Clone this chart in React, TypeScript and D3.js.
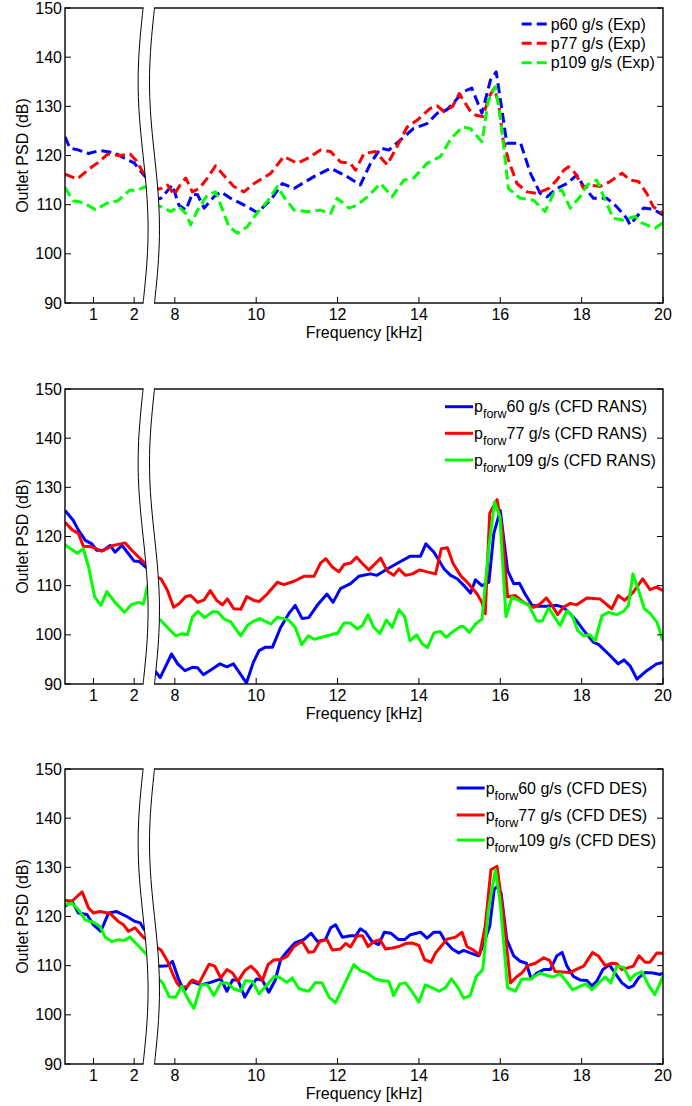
import React, { useEffect, useRef } from 'react';
import * as d3 from 'd3';

type Pt = [number, number];

// frequency [kHz], PSD [dB]  (f < 5 belongs to the low segment left of the axis break)
const exp60: Pt[] = [[0.3,123.8],[0.42,121.5],[0.6,121.2],[0.88,120.4],[1.15,121],[1.5,120.6],[1.8,119.3],[2.0,118.5],[2.2,116.4],[2.4,114.5],
  [7.45,111],[7.66,111.3],[7.94,114],[8.1,109.9],[8.27,108.9],[8.43,112.2],[8.56,112],[8.72,109.3],[8.96,111.6],[9.13,112.6],[9.37,111.3],[9.66,110.1],[10.03,108.4],[10.36,111],[10.64,114.3],[10.93,113.3],[11.42,115.7],[11.83,117.4],[12.24,115.7],[12.56,114],[12.81,118.4],[13.06,121.5],[13.26,121.1],[13.55,123.2],[13.87,125.5],[14.2,126.5],[14.45,128.6],[14.69,129.3],[15.1,133],[15.3,133.7],[15.55,128.6],[15.76,135.4],[15.9,137],[16.04,129.3],[16.16,122.5],[16.5,122.5],[16.74,116.4],[16.98,112.3],[17.15,111.6],[17.39,113.3],[17.64,114.3],[17.88,116],[18.05,113.7],[18.29,111.3],[18.62,111.3],[18.86,109.6],[19.11,107.2],[19.19,105.9],[19.36,107.6],[19.52,109.3],[19.76,109.1],[20,107.9]];
const exp77: Pt[] = [[0.3,116.2],[0.6,115.2],[0.9,117.3],[1.15,118.8],[1.35,120.3],[1.65,120],[1.9,120.3],[2.05,119],[2.2,116.8],[2.4,114.5],
  [7.45,113],[7.66,113.3],[7.82,114],[7.98,112],[8.15,114.3],[8.27,115.4],[8.43,112.6],[8.6,113.3],[8.8,115.4],[9.0,117.9],[9.2,116],[9.45,113.7],[9.7,112.6],[9.95,114.3],[10.36,116.4],[10.68,119.8],[11.01,118.4],[11.26,119.4],[11.58,121.1],[11.83,120.8],[12.07,118.7],[12.32,118.4],[12.44,117],[12.65,120.4],[12.93,120.8],[13.22,118.1],[13.46,121.8],[13.71,125.8],[13.96,127.2],[14.28,129.6],[14.45,130.1],[14.62,128.9],[14.83,130],[14.99,132.6],[15.24,129.3],[15.4,128.2],[15.57,127.9],[15.73,132],[15.85,133.7],[15.96,130.6],[16.07,123.2],[16.2,119.1],[16.41,114.3],[16.66,112.6],[16.9,112.3],[17.19,113.3],[17.39,115],[17.56,117],[17.68,117.7],[17.84,116.4],[18.05,113.3],[18.21,114],[18.45,113.7],[18.7,114.7],[18.99,116.4],[19.19,115],[19.4,114.7],[19.6,112.3],[19.76,109.6],[20,108.2]];
const exp109: Pt[] = [[0.3,113.5],[0.5,110.8],[0.75,110.4],[1.05,109],[1.33,110.3],[1.6,110.8],[1.9,113],[2.05,112.8],[2.25,113.6],[2.4,113.5],
  [7.45,110],[7.66,109.6],[7.9,108.6],[8.1,109.6],[8.27,108.2],[8.39,105.9],[8.56,108.9],[8.8,112],[9.0,112.6],[9.13,109.9],[9.33,105.5],[9.54,104.2],[9.78,105.5],[10.03,108.4],[10.27,110.6],[10.52,113.7],[10.68,111.6],[10.93,108.9],[11.26,108.6],[11.58,108.9],[11.83,108.2],[11.99,111.3],[12.28,109.3],[12.48,109.9],[12.73,111.6],[13.06,114.3],[13.34,111.6],[13.63,115],[13.87,115.4],[14.2,118.4],[14.53,119.8],[14.77,123.2],[15.06,125.8],[15.26,125.5],[15.55,122.8],[15.71,131.3],[15.88,134],[16.0,127.9],[16.12,119.1],[16.2,113.3],[16.49,111.3],[16.82,110.9],[17.1,108.6],[17.31,112.3],[17.51,113],[17.72,109.3],[17.96,111.6],[18.13,114],[18.37,115],[18.58,110.9],[18.78,107.2],[19.03,106.9],[19.31,107.6],[19.48,106.3],[19.8,105.2],[20,106.3]];

const rans60: Pt[] = [[0.3,125.3],[0.5,123.3],[0.63,121.3],[0.8,119.2],[0.96,118.5],[1.08,117.2],[1.25,117.2],[1.41,118.2],[1.53,116.8],[1.7,118.2],[1.86,116.5],[2.0,115],[2.13,114.9],[2.27,113.9],[2.4,113],
  [7.5,92.8],[7.64,91.3],[7.92,96.1],[8.07,94.1],[8.25,92.7],[8.43,93.4],[8.56,93.3],[8.7,91.9],[8.93,93.1],[9.11,94.1],[9.28,93.5],[9.44,94.1],[9.58,92.4],[9.76,90.2],[9.93,94.4],[10.07,96.8],[10.23,97.5],[10.4,97.5],[10.6,101.5],[10.8,104.3],[10.96,106],[11.13,103.3],[11.29,103.5],[11.5,106],[11.74,108.3],[11.89,106.6],[12.07,109.4],[12.32,110.4],[12.52,111.9],[12.81,112.4],[12.97,112.1],[13.22,113.4],[13.46,114.5],[13.79,116],[14.04,116],[14.17,118.5],[14.37,116.8],[14.62,113.4],[14.78,112.1],[14.94,111.4],[15.11,110],[15.27,108.5],[15.39,111.2],[15.55,110],[15.72,110.7],[15.84,120.6],[16.0,125.3],[16.18,113.1],[16.33,110.4],[16.47,110.5],[16.61,108.3],[16.78,106],[16.94,105.8],[17.15,105.8],[17.39,106],[17.55,105.6],[17.72,104.3],[17.88,102.8],[18.05,100.9],[18.29,98.5],[18.42,98],[18.66,96.1],[18.9,94.1],[19.04,94.9],[19.19,93.7],[19.36,91],[19.6,92.7],[19.85,94.1],[20,94.4]];
const rans77: Pt[] = [[0.3,122.9],[0.47,121.4],[0.63,120.6],[0.75,118],[0.96,117.9],[1.2,117],[1.49,118.2],[1.78,118.7],[1.94,117.2],[2.15,115.5],[2.27,114.5],[2.4,113.6],
  [7.5,112],[7.66,111.4],[7.82,109],[7.97,105.6],[8.1,106.3],[8.27,107.8],[8.39,108],[8.56,106.6],[8.72,107.1],[8.87,109],[9.03,107],[9.17,106.1],[9.29,107.3],[9.45,105.3],[9.62,105.2],[9.77,107.8],[9.94,107],[10.08,106.8],[10.27,108.3],[10.52,110.7],[10.68,110.2],[10.93,110.9],[11.17,111.9],[11.42,111.9],[11.58,114.6],[11.71,115.5],[11.87,113.8],[12.03,112.8],[12.16,114.3],[12.32,114.6],[12.47,115.8],[12.61,114.5],[12.77,113.2],[12.93,114.5],[13.06,115.6],[13.22,113],[13.38,112.1],[13.51,113.4],[13.67,112.1],[13.84,112.4],[14.02,113.2],[14.2,112.8],[14.41,112.4],[14.55,117.5],[14.7,117.7],[14.84,114.5],[15.02,112.1],[15.22,110.4],[15.43,108.3],[15.55,106.6],[15.63,104.3],[15.74,124.7],[15.92,127.5],[16.04,121.9],[16.18,107.7],[16.37,108],[16.57,106.6],[16.82,105.6],[16.98,106.3],[17.13,107.5],[17.27,106],[17.41,104.1],[17.55,105.6],[17.72,106.4],[17.88,106.1],[18.13,107.5],[18.45,107.3],[18.74,105.3],[18.9,108],[19.06,107],[19.27,108.7],[19.5,111.4],[19.68,109.2],[19.84,109.7],[20,109]];
const rans109: Pt[] = [[0.3,118.3],[0.6,116.6],[0.75,117.5],[0.88,113.8],[1.03,107.7],[1.18,106],[1.33,108.8],[1.53,106.6],[1.76,104.6],[1.94,106.2],[2.11,106.6],[2.23,106.3],[2.31,109.4],[2.4,111],
  [7.5,104],[7.66,102.9],[7.82,101.5],[8.02,99.8],[8.16,100.2],[8.31,100],[8.43,103.6],[8.57,104.8],[8.73,103.5],[8.93,104.7],[9.05,104.7],[9.21,103.2],[9.37,102.7],[9.62,99.8],[9.78,101.9],[9.94,102.8],[10.09,103.3],[10.36,102.2],[10.52,103.6],[10.8,103],[10.96,101.5],[11.12,98],[11.28,99.8],[11.42,99.1],[11.66,99.6],[11.91,100.2],[11.99,100.2],[12.16,102.4],[12.32,102.4],[12.48,101.2],[12.61,101.9],[12.75,104.1],[12.89,101.5],[13.04,100.3],[13.2,103],[13.34,101.5],[13.51,105.1],[13.65,103.7],[13.78,98.8],[13.94,100],[14.08,98.2],[14.21,97.4],[14.37,100.4],[14.53,100.7],[14.67,99.5],[14.84,100.7],[15.02,101.7],[15.1,101.7],[15.24,100.5],[15.39,102.2],[15.55,103.2],[15.72,117.8],[15.86,127],[15.99,124],[16.14,103.7],[16.29,107.7],[16.5,106.8],[16.7,106],[16.9,102.8],[17.03,102.8],[17.19,105.5],[17.31,103.9],[17.47,101.9],[17.64,104.9],[17.78,103.7],[17.9,100.9],[18.05,99.8],[18.21,100],[18.33,98.8],[18.5,103.9],[18.66,104.6],[18.86,104.1],[19.03,104.8],[19.15,106],[19.26,112.4],[19.4,109],[19.54,105.3],[19.68,104.4],[19.85,102.6],[20,98.8]];

const des60: Pt[] = [[0.3,122.1],[0.47,123.1],[0.63,120.7],[0.84,120.4],[1.0,118.3],[1.18,117],[1.37,120.7],[1.57,121],[1.82,120],[2.02,119],[2.15,118.7],[2.25,117.3],[2.4,116.5],
  [7.5,110],[7.64,109.9],[7.82,110],[7.94,110.9],[8.1,107.1],[8.23,104.8],[8.39,106.8],[8.64,106.1],[8.88,106.6],[9.13,107.3],[9.28,104.8],[9.42,107.1],[9.55,107.1],[9.72,103.6],[9.87,105.8],[10.01,107.3],[10.15,107.1],[10.31,104.6],[10.47,107.1],[10.6,111.2],[10.76,112.9],[10.96,114.7],[11.17,115.3],[11.35,116.6],[11.51,114.9],[11.7,115.3],[11.83,117.7],[11.95,118.3],[12.12,115.8],[12.32,116.1],[12.45,116.1],[12.56,117.5],[12.69,116.8],[12.85,114.9],[13.01,114.3],[13.15,116.8],[13.31,116.6],[13.5,115.3],[13.65,115.3],[13.79,116.3],[14.04,116.8],[14.2,115.6],[14.37,116.8],[14.52,116.8],[14.65,114.9],[14.82,113.4],[14.98,112.6],[15.1,113.1],[15.26,112.6],[15.47,112],[15.61,114.9],[15.74,118],[15.85,125.5],[15.92,126.1],[16.02,124.8],[16.16,115.3],[16.33,112],[16.49,110.9],[16.64,110.5],[16.76,107.3],[16.9,108.5],[17.07,109.2],[17.23,109.2],[17.39,112],[17.52,112.7],[17.64,109.9],[17.8,107.8],[17.96,107.1],[18.13,107],[18.25,105.9],[18.37,106.8],[18.52,109.2],[18.68,110.2],[18.82,108.5],[18.99,106.5],[19.15,105.5],[19.27,105.9],[19.4,107.5],[19.56,108.6],[19.76,108.5],[19.93,108.2],[20,108.5]];
const des77: Pt[] = [[0.3,123.3],[0.47,123.1],[0.72,125],[0.88,121.7],[1.0,120.7],[1.16,121],[1.41,120.6],[1.61,119],[1.74,118.3],[1.86,117],[2.02,117.7],[2.19,116.1],[2.25,115.6],[2.4,115],
  [7.5,114],[7.66,113.2],[7.82,110.9],[7.94,108.5],[8.05,106.5],[8.15,105.5],[8.31,105.8],[8.43,107.1],[8.6,106.5],[8.84,110.3],[8.98,109.9],[9.13,107.5],[9.28,109.2],[9.42,108.5],[9.55,106.8],[9.72,109],[9.87,109.9],[10.01,108.8],[10.15,107],[10.29,110.2],[10.44,111.2],[10.6,111.2],[10.76,111.9],[10.93,113.9],[11.13,114.9],[11.29,112.7],[11.42,112.9],[11.56,114.9],[11.74,115.3],[11.87,113.2],[12.07,113.4],[12.2,114.5],[12.32,113.8],[12.48,116.1],[12.61,116.1],[12.75,113.9],[12.89,114.9],[13.04,115.3],[13.18,113.4],[13.34,113.6],[13.51,113.9],[13.67,114.5],[13.84,114.6],[14.0,114.1],[14.14,111.2],[14.3,110.7],[14.41,112.6],[14.53,113.8],[14.69,115.4],[14.9,115.8],[15.06,116.8],[15.18,113.9],[15.35,113.1],[15.49,112.2],[15.63,118],[15.77,129.5],[15.92,130.2],[16.07,120.7],[16.25,106.5],[16.41,107.8],[16.53,108.5],[16.67,110],[16.86,110.5],[17.07,111.6],[17.21,111.1],[17.35,108.8],[17.52,108.7],[17.72,108.6],[17.88,109.3],[18.05,109.9],[18.27,112.7],[18.42,111.9],[18.58,110],[18.74,110.5],[18.86,110.4],[18.99,109.2],[19.15,109.6],[19.27,109.9],[19.41,112],[19.56,110.7],[19.68,110.7],[19.85,112.6],[20,112.5]];
const des109: Pt[] = [[0.3,122.4],[0.47,122.7],[0.63,121.4],[0.8,119.3],[1.0,118.8],[1.16,118],[1.29,115.8],[1.45,114.9],[1.61,115.3],[1.74,115.1],[1.9,115.8],[2.07,114.3],[2.27,112.6],[2.4,111.5],
  [7.5,108],[7.58,107.5],[7.7,106.5],[7.86,103.7],[8.02,103.6],[8.17,105.8],[8.31,103.4],[8.47,101.3],[8.64,106.1],[8.8,106.1],[8.96,103.9],[9.13,106.5],[9.29,106.5],[9.45,105.3],[9.62,104.8],[9.74,107],[9.91,106.8],[10.07,104.3],[10.27,106.1],[10.44,107.8],[10.56,107.7],[10.75,106.6],[10.89,107.5],[11.05,105.3],[11.29,104.8],[11.46,106.6],[11.62,106.5],[11.79,103.6],[11.95,102.5],[12.16,106.1],[12.4,110.2],[12.56,109],[12.73,108.5],[12.93,107.3],[13.1,107],[13.26,106.8],[13.38,103.9],[13.53,106.3],[13.67,106.5],[13.84,104.6],[14.0,102.6],[14.16,106.1],[14.33,105.5],[14.49,104.8],[14.65,105.5],[14.8,107.3],[14.94,105.8],[15.1,103.4],[15.26,103.9],[15.41,107.8],[15.57,109.2],[15.71,121.4],[15.88,129.5],[16.0,122.7],[16.18,105.5],[16.37,104.8],[16.53,107.3],[16.74,107.3],[16.98,108.5],[17.15,108],[17.31,107.7],[17.47,108.4],[17.64,106.6],[17.78,105.1],[17.96,105.8],[18.11,106.3],[18.25,105.1],[18.42,106.5],[18.58,107.7],[18.72,106.5],[18.86,109.9],[19.03,109.7],[19.19,107.1],[19.31,108.2],[19.48,108.8],[19.64,106.1],[19.8,104.1],[20,107.8]];

const massFlows = ['60', '77', '109'];
const colors = ['#0000ff', '#ff0000', '#00ff00'];
const yTicks = [90, 100, 110, 120, 130, 140, 150];
const xTicksLo = [1, 2];
const xTicksHi = [8, 10, 12, 14, 16, 18, 20];
const breakLo = 2.22; // last frequency shown left of the break
const breakHi = 7.5;  // first frequency shown right of the break

const panels = [
  { top: 8, series: [exp60, exp77, exp109], dashed: true, tag: 'Exp', sub: false, legX: 521.7, rowY: [16, 35.3, 54.7] },
  { top: 389, series: [rans60, rans77, rans109], dashed: false, tag: 'CFD RANS', sub: true, legX: 445, rowY: [17.7, 44.3, 71] },
  { top: 769, series: [des60, des77, des109], dashed: false, tag: 'CFD DES', sub: true, legX: 456.7, rowY: [19, 46, 71] },
];

const App = () => {
  const ref = useRef<HTMLDivElement>(null);

  useEffect(() => {
    const node = ref.current;
    if (!node) return;
    node.innerHTML = '';

    const width = 692;
    const height = 1106;
    const left = 65;
    const right = 663;
    const ph = 295;
    const fs = 16;
    const font = '"Liberation Sans", Arial, Helvetica, sans-serif';

    // both segments share one kHz-per-pixel ratio, the high one is shifted past the break
    const kPx = (right - left) / (20 - breakHi + 2.5 - 0.3);
    const xLo = d3.scaleLinear().domain([0.3, 2.5]).range([left, left + 2.2 * kPx]);
    const xHi = d3.scaleLinear().domain([breakHi, 20]).range([left + 2.2 * kPx, right]);

    const svg = d3.select(node).append('svg')
      .attr('width', width)
      .attr('height', height)
      .style('display', 'block')
      .style('font-family', font);

    svg.append('rect').attr('width', width).attr('height', height).attr('fill', '#fff');

    panels.forEach((p, pi) => {
      const top = p.top;
      const bottom = top + ph;
      const y = d3.scaleLinear().domain([90, 150]).range([bottom, top]);
      const g = svg.append('g');

      const clipId = `clip${pi}`;
      g.append('clipPath').attr('id', clipId)
        .append('rect').attr('x', left).attr('y', top).attr('width', right - left).attr('height', ph);

      const line = d3.line<Pt>().x(d => (d[0] < 5 ? xLo(d[0]) : xHi(d[0]))).y(d => y(d[1]));

      const plot = g.append('g').attr('clip-path', `url(#${clipId})`);
      p.series.forEach((s, si) => {
        [s.filter(d => d[0] < 5), s.filter(d => d[0] >= 5)].forEach(part => {
          plot.append('path')
            .attr('d', line(part))
            .attr('fill', 'none')
            .attr('stroke', colors[si])
            .attr('stroke-width', 3)
            .attr('stroke-linejoin', 'round')
            .attr('stroke-dasharray', p.dashed ? '10,5' : null);
        });
      });

      // axes box
      g.append('rect')
        .attr('x', left).attr('y', top).attr('width', right - left).attr('height', ph)
        .attr('fill', 'none').attr('stroke', '#000').attr('stroke-width', 1.4);

      // inward ticks
      const tl = 6;
      yTicks.forEach(v => {
        g.append('line').attr('x1', left).attr('x2', left + tl).attr('y1', y(v)).attr('y2', y(v))
          .attr('stroke', '#000').attr('stroke-width', 1);
        g.append('line').attr('x1', right).attr('x2', right - tl).attr('y1', y(v)).attr('y2', y(v))
          .attr('stroke', '#000').attr('stroke-width', 1);
        g.append('text').attr('x', left - 3).attr('y', y(v) + 5.5)
          .attr('text-anchor', 'end').attr('font-size', fs).text(v);
      });
      const xt = [...xTicksLo.map(f => xLo(f)), ...xTicksHi.map(f => xHi(f))];
      const xl = [...xTicksLo, ...xTicksHi];
      xt.forEach((xx, i) => {
        g.append('line').attr('x1', xx).attr('x2', xx).attr('y1', bottom).attr('y2', bottom - tl)
          .attr('stroke', '#000').attr('stroke-width', 1);
        g.append('text').attr('x', xx).attr('y', bottom + 17)
          .attr('text-anchor', 'middle').attr('font-size', fs).text(xl[i]);
      });

      // axis break: white band between two wavy lines
      const n = 40;
      const wave = (x0: number) => d3.range(n + 1).map(i => {
        const t = i / n;
        return [x0 - 5 * Math.sin(2 * Math.PI * t), top + t * ph] as Pt;
      });
      const lw = wave(xLo(breakLo));
      const rw = wave(xHi(breakHi));
      const band = [...lw, ...rw.slice().reverse()];
      g.append('path')
        .attr('d', d3.line<Pt>()(band) + 'Z')
        .attr('fill', '#fff').attr('stroke', 'none');
      g.append('rect').attr('x', xLo(breakLo) + 0.5).attr('y', top - 1.5)
        .attr('width', xHi(breakHi) - xLo(breakLo) - 1).attr('height', 3).attr('fill', '#fff');
      g.append('rect').attr('x', xLo(breakLo) + 0.5).attr('y', bottom - 1.5)
        .attr('width', xHi(breakHi) - xLo(breakLo) - 1).attr('height', 3).attr('fill', '#fff');
      [lw, rw].forEach(w => {
        g.append('path').attr('d', d3.line<Pt>().curve(d3.curveBasis)(w))
          .attr('fill', 'none').attr('stroke', '#000').attr('stroke-width', 1);
      });

      // axis labels
      g.append('text')
        .attr('transform', `translate(28,${(top + bottom) / 2}) rotate(-90)`)
        .attr('text-anchor', 'middle').attr('font-size', fs).text('Outlet PSD (dB)');
      g.append('text')
        .attr('x', (left + right) / 2).attr('y', bottom + 35)
        .attr('text-anchor', 'middle').attr('font-size', fs).text('Frequency [kHz]');

      // legend (no box)
      p.rowY.forEach((ry, si) => {
        const ly = top + ry;
        g.append('line')
          .attr('x1', p.legX).attr('x2', p.legX + 28).attr('y1', ly).attr('y2', ly)
          .attr('stroke', colors[si]).attr('stroke-width', 3)
          .attr('stroke-dasharray', p.dashed ? '10,5' : null);
        const t = g.append('text').attr('x', p.legX + 29).attr('y', ly + 5.5).attr('font-size', fs);
        if (p.sub) {
          t.append('tspan').text('p');
          t.append('tspan').attr('font-size', 12.5).attr('dy', 6).text('forw');
          t.append('tspan').attr('dy', -6).text(`${massFlows[si]} g/s (${p.tag})`);
        } else {
          t.text(`p${massFlows[si]} g/s (${p.tag})`);
        }
      });
    });
  }, []);

  return <div ref={ref} style={{ position: 'absolute', left: 0, top: 0 }}></div>;
};

export default App;
